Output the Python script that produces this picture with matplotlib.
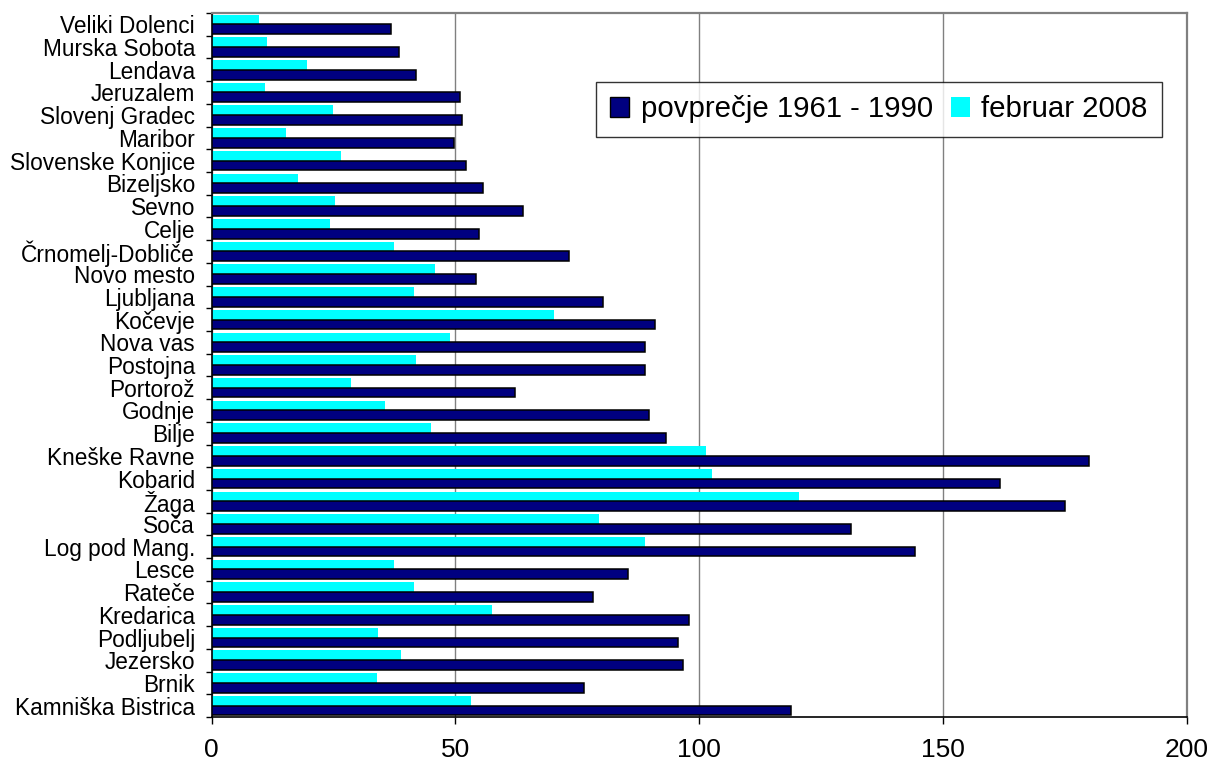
import numpy as np
import matplotlib
matplotlib.use("Agg")
import matplotlib.pyplot as plt
from matplotlib.patches import Patch
from matplotlib.ticker import FixedLocator

plt.rcParams["font.family"] = ["Liberation Sans", "DejaVu Sans"]

# --- station list, top to bottom ---
stations = [
    "Veliki Dolenci", "Murska Sobota", "Lendava", "Jeruzalem", "Slovenj Gradec",
    "Maribor", "Slovenske Konjice", "Bizeljsko", "Sevno", "Celje",
    "Črnomelj-Dobliče", "Novo mesto", "Ljubljana", "Kočevje", "Nova vas",
    "Postojna", "Portorož", "Godnje", "Bilje", "Kneške Ravne", "Kobarid",
    "Žaga", "Soča", "Log pod Mang.", "Lesce", "Rateče", "Kredarica",
    "Podljubelj", "Jezersko", "Brnik", "Kamniška Bistrica",
]

# long-term mean 1961-1990
povprecje = [36.7, 38.4, 41.9, 50.9, 51.4, 49.6, 52.2, 55.7, 63.9, 54.8,
             73.3, 54.3, 80.2, 90.9, 88.8, 88.8, 62.2, 89.6, 93.1, 179.8,
             161.7, 175.0, 131.0, 144.2, 85.3, 78.1, 97.8, 95.7, 96.6, 76.3,
             118.8]

# February 2008
februar = [9.7, 11.4, 19.6, 11.0, 24.8, 15.3, 26.5, 17.8, 25.2, 24.3,
           37.3, 45.9, 41.6, 70.3, 48.9, 42.0, 28.6, 35.5, 45.0, 101.3,
           102.7, 120.4, 79.4, 88.9, 37.3, 41.6, 57.4, 34.2, 38.9, 33.9,
           53.2]

navy = "#000080"
cyan = "#00FFFF"
grey = "#808080"

fig = plt.figure(figsize=(12.14, 7.70), dpi=100)
ax = fig.add_axes([0.1743, 0.0688, 0.8035, 0.9143])

y = np.arange(len(stations))
h = 0.43

ax.barh(y - h / 2, februar, height=h, color=cyan, edgecolor="none", zorder=2)
ax.barh(y + h / 2, povprecje, height=h, color=navy, edgecolor="black",
        linewidth=1.1, zorder=3)

ax.set_xlim(0, 200)
ax.set_ylim(len(stations) - 0.5, -0.5)

# x axis
ax.set_xticks([0, 50, 100, 150, 200])
ax.tick_params(axis="x", direction="out", length=5, width=1, pad=10,
               labelsize=19, colors="black")
ax.xaxis.grid(True, color=grey, linewidth=1)
ax.set_axisbelow(True)

# y axis: labels at centres, ticks between categories
ax.set_yticks(y)
ax.set_yticklabels(stations)
ax.yaxis.set_minor_locator(FixedLocator(np.arange(-0.5, len(stations), 1)))
ax.tick_params(axis="y", which="major", length=0, pad=12, labelsize=16.3)
ax.tick_params(axis="y", which="minor", direction="out", length=4.3, width=1)

for side in ("left", "bottom"):
    ax.spines[side].set_color("black")
    ax.spines[side].set_linewidth(1.2)
for side in ("top", "right"):
    ax.spines[side].set_color(grey)
    ax.spines[side].set_linewidth(1.6)

handles = [
    Patch(facecolor=navy, edgecolor="black", linewidth=1),
    Patch(facecolor=cyan, edgecolor="none"),
]
leg = ax.legend(handles, ["povprečje 1961 - 1990", "februar 2008"],
                ncol=2, loc="center", bbox_to_anchor=(0.684, 0.863),
                fontsize=21.2, frameon=True, fancybox=False, shadow=False,
                handlelength=0.65, handleheight=0.65, handletextpad=0.4,
                columnspacing=0.6, borderpad=0.47, borderaxespad=0)
leg.get_frame().set_edgecolor("black")
leg.get_frame().set_linewidth(1)

fig.savefig("out.png", dpi=100, facecolor="white")
